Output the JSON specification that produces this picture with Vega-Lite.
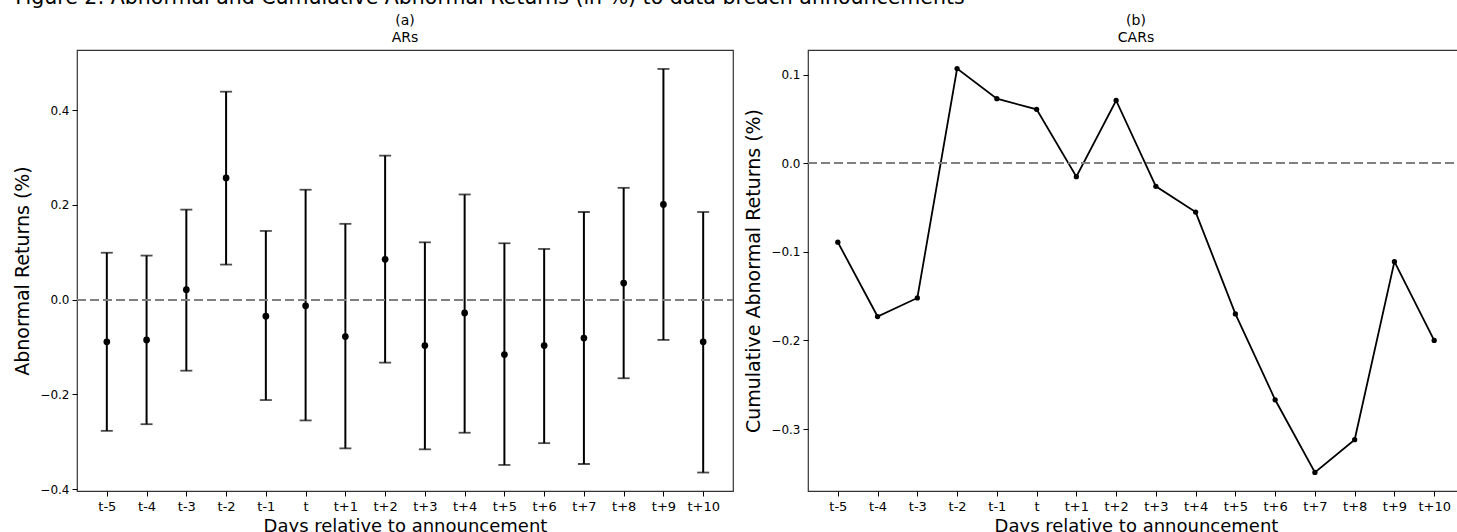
{
  "$schema": "https://vega.github.io/schema/vega-lite/v6.json",
  "padding": {"left": 13, "top": -13, "right": 0, "bottom": 0},
  "background": "white",
  "title": {
    "text": "Figure 2: Abnormal and Cumulative Abnormal Returns (in %) to data breach announcements",
    "anchor": "start",
    "frame": "bounds",
    "fontSize": 20.5,
    "font": "DejaVu Sans",
    "fontWeight": "normal",
    "color": "black",
    "offset": 5,
    "dx": 2
  },
  "config": {
    "font": "DejaVu Sans",
    "view": {"stroke": "#333", "strokeWidth": 1.2},
    "axis": {
      "labelFont": "DejaVu Sans",
      "labelFontSize": 12,
      "labelColor": "black",
      "tickColor": "black",
      "tickSize": 5,
      "tickWidth": 1,
      "domain": false,
      "grid": false,
      "titleFont": "DejaVu Sans",
      "titleFontSize": 18,
      "titleFontWeight": "normal",
      "titleColor": "black",
      "labelPadding": 3
    },
    "title": {"font": "DejaVu Sans", "fontWeight": "normal", "color": "black"}
  },
  "spacing": 9,
  "datasets": {
    "d": [
      {"day": "t-5", "ar": -0.089, "lo": -0.277, "hi": 0.099, "car": -0.089},
      {"day": "t-4", "ar": -0.085, "lo": -0.263, "hi": 0.093, "car": -0.173},
      {"day": "t-3", "ar": 0.021, "lo": -0.150, "hi": 0.190, "car": -0.152},
      {"day": "t-2", "ar": 0.257, "lo": 0.074, "hi": 0.439, "car": 0.107},
      {"day": "t-1", "ar": -0.035, "lo": -0.212, "hi": 0.145, "car": 0.073},
      {"day": "t", "ar": -0.013, "lo": -0.255, "hi": 0.232, "car": 0.061},
      {"day": "t+1", "ar": -0.078, "lo": -0.314, "hi": 0.160, "car": -0.015},
      {"day": "t+2", "ar": 0.085, "lo": -0.133, "hi": 0.304, "car": 0.071},
      {"day": "t+3", "ar": -0.097, "lo": -0.316, "hi": 0.121, "car": -0.026},
      {"day": "t+4", "ar": -0.028, "lo": -0.281, "hi": 0.222, "car": -0.055},
      {"day": "t+5", "ar": -0.116, "lo": -0.349, "hi": 0.119, "car": -0.170},
      {"day": "t+6", "ar": -0.097, "lo": -0.303, "hi": 0.107, "car": -0.267},
      {"day": "t+7", "ar": -0.081, "lo": -0.347, "hi": 0.185, "car": -0.349},
      {"day": "t+8", "ar": 0.035, "lo": -0.166, "hi": 0.236, "car": -0.312},
      {"day": "t+9", "ar": 0.201, "lo": -0.085, "hi": 0.487, "car": -0.111},
      {"day": "t+10", "ar": -0.089, "lo": -0.365, "hi": 0.185, "car": -0.200}
    ]
  },
  "hconcat": [
    {
      "width": 656,
      "height": 441,
      "title": {"text": ["(a)", "ARs"], "fontSize": 14, "offset": 5, "lineHeight": 17, "anchor": "middle"},
      "data": {"name": "d"},
      "encoding": {
        "x": {
          "field": "day", "type": "ordinal",
          "sort": ["t-5","t-4","t-3","t-2","t-1","t","t+1","t+2","t+3","t+4","t+5","t+6","t+7","t+8","t+9","t+10"],
          "scale": {"type": "point", "padding": 0.75},
          "axis": {"labelAngle": 0, "title": "Days relative to announcement", "labelFontSize": 13, "titlePadding": 4, "labelPadding": 4}
        }
      },
      "layer": [
        {
          "mark": {"type": "rule", "color": "black", "strokeWidth": 2},
          "encoding": {
            "y": {
              "field": "lo", "type": "quantitative",
              "scale": {"domain": [-0.404, 0.527], "nice": false, "zero": false},
              "axis": {"values": [-0.4, -0.2, 0, 0.2, 0.4], "format": ".1f", "title": "Abnormal Returns (%)", "titlePadding": 7, "titleFontSize": 19}
            },
            "y2": {"field": "hi"}
          }
        },
        {
          "mark": {"type": "tick", "color": "black", "size": 12, "thickness": 1.8},
          "encoding": {"y": {"field": "lo", "type": "quantitative"}}
        },
        {
          "mark": {"type": "tick", "color": "black", "size": 12, "thickness": 1.8},
          "encoding": {"y": {"field": "hi", "type": "quantitative"}}
        },
        {
          "mark": {"type": "point", "filled": true, "color": "black", "size": 45, "opacity": 1},
          "encoding": {"y": {"field": "ar", "type": "quantitative"}}
        },
        {
          "mark": {"type": "rule", "strokeDash": [9, 4], "color": "#808080", "strokeWidth": 1.5},
          "encoding": {"x": {"value": 0}, "x2": {"value": 656}, "y": {"datum": 0, "type": "quantitative"}}
        }
      ]
    },
    {
      "width": 656,
      "height": 441,
      "title": {"text": ["(b)", "CARs"], "fontSize": 14, "offset": 5, "lineHeight": 17, "anchor": "middle"},
      "data": {"name": "d"},
      "encoding": {
        "x": {
          "field": "day", "type": "ordinal",
          "sort": ["t-5","t-4","t-3","t-2","t-1","t","t+1","t+2","t+3","t+4","t+5","t+6","t+7","t+8","t+9","t+10"],
          "scale": {"type": "point", "padding": 0.75},
          "axis": {"labelAngle": 0, "title": "Days relative to announcement", "labelFontSize": 13, "titlePadding": 4, "labelPadding": 4}
        }
      },
      "layer": [
        {
          "mark": {"type": "line", "color": "black", "strokeWidth": 1.8},
          "encoding": {
            "y": {
              "field": "car", "type": "quantitative",
              "scale": {"domain": [-0.370, 0.128], "nice": false, "zero": false},
              "axis": {"values": [-0.3, -0.2, -0.1, 0, 0.1], "format": ".1f", "title": "Cumulative Abnormal Returns (%)", "titlePadding": 7, "titleFontSize": 19}
            }
          }
        },
        {
          "mark": {"type": "point", "filled": true, "color": "black", "size": 28, "opacity": 1},
          "encoding": {"y": {"field": "car", "type": "quantitative"}}
        },
        {
          "mark": {"type": "rule", "strokeDash": [9, 4], "color": "#808080", "strokeWidth": 1.5},
          "encoding": {"x": {"value": 0}, "x2": {"value": 656}, "y": {"datum": 0, "type": "quantitative"}}
        }
      ]
    }
  ]
}
